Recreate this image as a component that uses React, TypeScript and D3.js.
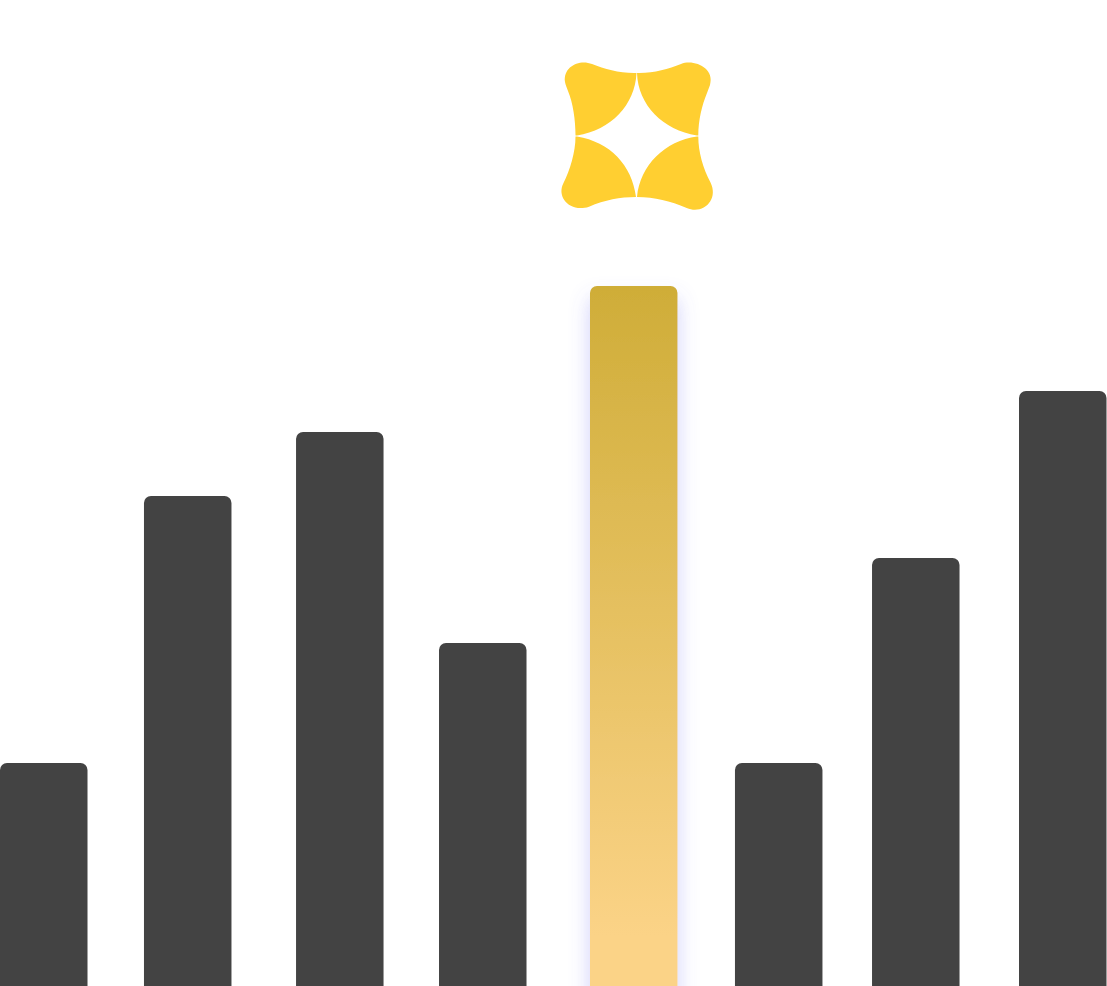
import React from 'react'
import * as d3 from 'd3'

const bars = ['a', 'b', 'c', 'd', 'e', 'f', 'g', 'h']
const values = [223, 490, 554, 343, 700, 223, 428, 595]
const highlighted = 'e'

const width = 1107
const height = 986
const barWidth = 87.5
// the bars in the picture are not evenly spaced, offset from the regular step
const nudge = [0, -1.6, 4.9, 2.3, 7.7, 7.1, -1.4, 0]

// logo outline, four petals round a star
const petals = [
  'M636.5 73C620 73.5 605 69 592 64C580 59 563 66 565 82C565.5 85 567 88 568 91C573 103 575.5 120 575.5 135.5L577 135.5C611 130 635 105 636.5 73Z',
  'M637 73C653 73.5 668 69 681 64C694 59 715 68 710 85C709 88 708 90 707 93C702 105 698.3 120 698.3 135.5L697 135.5C663 130 638 105 637 73Z',
  'M577 136.5L575.5 136.5C575.5 152 570 170 563.5 183C556 197 570 213 589 206.7C605 200 620 197 636 197C632 165 610 142 577 136.5Z',
  'M637 197C655 197 670 201 686.7 208C703 215 719 200 710.5 182.5C703 168 698.3 152 698.3 136.5L697 136.5C665 141 640 165 637 197Z',
]

export default function App() {
  const x = d3.scalePoint<string>().domain(bars).range([0, 1019])
  const y = d3.scaleLinear().domain([0, 700]).range([height, 286])

  return (
    <svg width={width} height={height} style={{ position: 'fixed', left: 0, top: 0, display: 'block' }}>
      <defs>
        <linearGradient id="bar-gold" x1="0" y1="0" x2="0" y2="1">
          <stop offset="0%" stopColor="#CFAD38" />
          <stop offset="89%" stopColor="#FBD387" />
          <stop offset="100%" stopColor="#FBD387" />
        </linearGradient>
        <filter id="bar-glow" x="-60%" y="-10%" width="220%" height="120%">
          <feDropShadow dx="0" dy="12" stdDeviation="10" floodColor="#6c6cf0" floodOpacity="0.32" />
        </filter>
      </defs>

      {bars.map((b, i) => (
        <rect
          key={b}
          x={(x(b) as number) + nudge[i]}
          y={y(values[i])}
          width={barWidth}
          height={height - y(values[i]) + 30}
          rx={7}
          fill={b === highlighted ? 'url(#bar-gold)' : '#434343'}
          filter={b === highlighted ? 'url(#bar-glow)' : undefined}
        />
      ))}

      <g fill="#FFCF31">
        {petals.map((d, i) => <path key={i} d={d} />)}
      </g>
    </svg>
  )
}
